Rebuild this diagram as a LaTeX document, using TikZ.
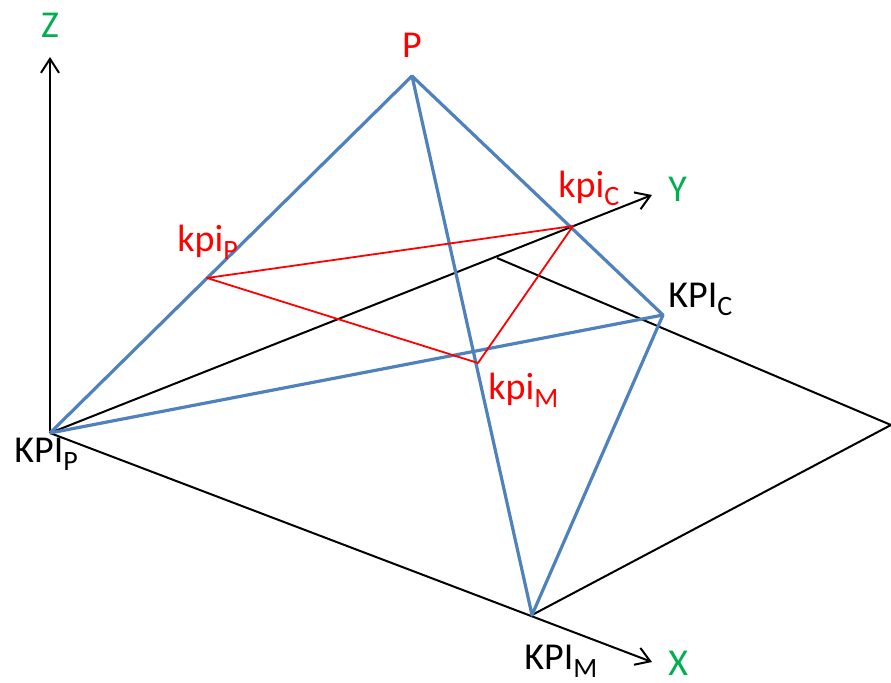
\documentclass[tikz,border=0pt]{standalone}
\usepackage{fontspec}
\setmainfont{Carlito}
\usetikzlibrary{positioning,arrows.meta}
\definecolor{kpiblue}{HTML}{4F81BD}
\definecolor{axgreen}{HTML}{00B050}
\newcommand{\lowsub}[1]{\raisebox{-4pt}{\fontsize{14}{14}\selectfont #1}}

\begin{document}
\begin{tikzpicture}[x=0.5pt,y=-0.5pt,
    axis/.style={draw=black, line width=1pt},
    arr/.style={-{Straight Barb[length=7pt,width=9pt,line width=1pt]}},
    pyr/.style={draw=kpiblue, line width=1.6pt, line join=round},
    tri/.style={draw=red, line width=0.9pt, line join=round},
    lbl/.style={inner sep=0pt, font=\fontsize{19}{21}\selectfont}]
  \useasboundingbox (0,0) rectangle (891,683);
  % points
  \coordinate (KP) at (50,433);
  \coordinate (ztip) at (50,57);
  \coordinate (xtip) at (652,662);
  \coordinate (ytip) at (652,195);
  \coordinate (yfar) at (497,258);
  \coordinate (corner) at (891,425);
  \coordinate (P) at (412,76);
  \coordinate (KC) at (663,315);
  \coordinate (KM) at (532,615);
  \coordinate (kp) at (207,278);
  \coordinate (kc) at (573,226);
  \coordinate (km) at (478,363);

  % axes and base plane
  \draw[axis,arr] (KP) -- (ztip);
  \draw[axis,arr] (KP) -- (xtip);
  \draw[axis,arr] (KP) -- (ytip);
  \draw[axis] (yfar) -- (corner);
  \draw[axis] (KM) -- (corner);

  % pyramid
  \draw[pyr] (KP) -- (P) -- (KC) -- (KM) -- (P);
  \draw[pyr] (KP) -- (KC);

  % inner triangle
  \draw[tri] (kp) -- (kc) -- (km) -- cycle;

  % labels
  \node (zlab) [lbl, text=axgreen, anchor=base] at (50,38) {Z};
  \node (ylab) [lbl, text=axgreen, anchor=base west] at (668,202) {Y};
  \node (xlab) [lbl, text=axgreen, anchor=base west] at (668,676) {X};
  \node (plab) [lbl, text=red, anchor=base] at (412,58) {P};
  \node (kplab) [lbl, anchor=base west] at (14,463) {KPI\lowsub{P}};
  \node (kmlab) [lbl, anchor=base west] at (524,670) {KPI\lowsub{M}};
  \node (kclab) [lbl, anchor=base west] at (668,308) {KPI\lowsub{C}};
  \node (kpilab) [lbl, text=red, anchor=base west] at (177,252) {kpi\lowsub{P}};
  \node (kcilab) [lbl, text=red, anchor=base west] at (558,198) {kpi\lowsub{C}};
  \node (kmilab) [lbl, text=red, anchor=base west] at (488,400) {kpi\lowsub{M}};
\end{tikzpicture}
\end{document}
